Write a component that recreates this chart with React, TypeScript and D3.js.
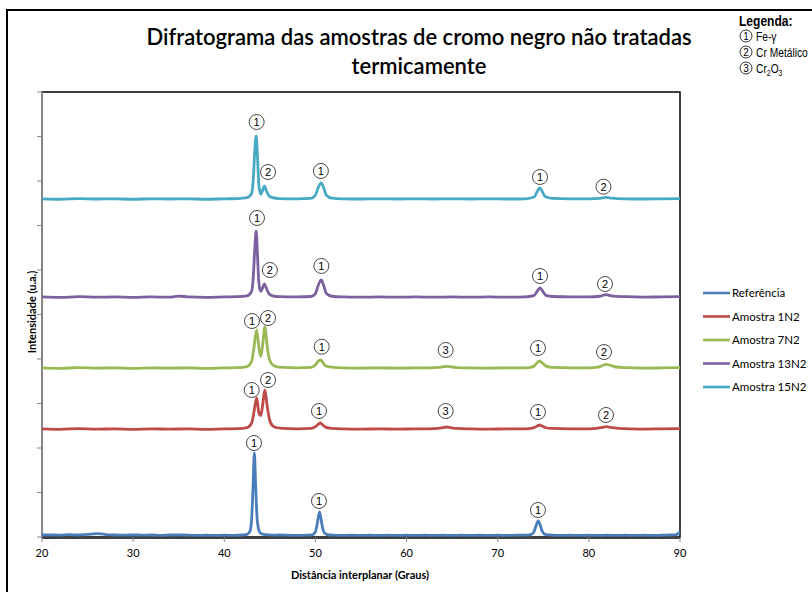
import React from "react";
import * as d3 from "d3";

type P = [number, number];

const seriesNames = ["Referência", "Amostra 1N2", "Amostra 7N2", "Amostra 13N2", "Amostra 15N2"];
const seriesColors = ["#4a7ebb", "#be4b48", "#98b954", "#7d60a0", "#46aac5"];

const referencia: P[] = [
  [20, 45], [21, 50], [22, 40], [23, 55], [24, 45], [25, 60], [26, 75], [26.5, 70], [27, 55], [28, 45], [29, 40], [30, 50],
  [31, 40], [32, 45], [33, 35], [34, 45], [35, 50], [36, 40], [37, 35], [38, 40], [39, 35], [40, 40], [41, 35], [42, 45],
  [42.5, 60], [42.8, 120], [43.0, 400], [43.15, 1100], [43.3, 1888], [43.45, 1100], [43.6, 420], [43.8, 150], [44.0, 80],
  [44.3, 60], [44.8, 50], [45.5, 40], [46, 45], [47, 40], [48, 35], [49, 40], [49.7, 55], [50.0, 120], [50.2, 300],
  [50.45, 562], [50.7, 300], [50.9, 120], [51.2, 60], [51.6, 45], [52, 40], [53, 35], [54, 40], [55, 35], [56, 40],
  [57, 35], [58, 40], [59, 35], [60, 40], [61, 35], [62, 40], [63, 35], [64, 40], [65, 35], [66, 40], [67, 35], [68, 40],
  [69, 35], [70, 40], [71, 35], [72, 40], [73, 40], [73.7, 60], [74.0, 130], [74.2, 250], [74.45, 360], [74.7, 240],
  [74.9, 120], [75.2, 60], [75.8, 45], [76, 40], [77, 35], [78, 40], [79, 35], [80, 40], [81, 35], [82, 40], [83, 35],
  [84, 40], [85, 35], [86, 40], [87, 35], [88, 40], [89, 45], [89.6, 55], [90, 110],
];

const amostra1N2: P[] = [
  [20, 2430], [22, 2420], [24, 2435], [26, 2425], [28, 2430], [30, 2420], [32, 2430], [34, 2425], [36, 2430], [38, 2420],
  [40, 2430], [41.5, 2435], [42.5, 2460], [43.0, 2560], [43.25, 2800], [43.55, 3124], [43.8, 2780], [44.0, 2730],
  [44.2, 2950], [44.45, 3303], [44.7, 2950], [44.95, 2650], [45.3, 2500], [45.8, 2455], [46.5, 2440], [48, 2430],
  [49.5, 2440], [50.0, 2480], [50.3, 2530], [50.55, 2562], [50.8, 2520], [51.1, 2470], [51.8, 2440], [53, 2430],
  [55, 2425], [57, 2430], [59, 2425], [61, 2430], [62.5, 2430], [63.5, 2440], [64.0, 2460], [64.4, 2472], [64.9, 2455],
  [65.5, 2440], [67, 2430], [69, 2425], [71, 2430], [73, 2430], [73.9, 2450], [74.3, 2490], [74.6, 2517], [74.9, 2490],
  [75.3, 2455], [76, 2440], [78, 2430], [80, 2430], [81.0, 2445], [81.5, 2465], [81.9, 2479], [82.4, 2465], [83, 2445],
  [84, 2435], [86, 2425], [88, 2430], [90, 2435],
];

const amostra7N2: P[] = [
  [20, 3800], [22, 3790], [24, 3805], [26, 3795], [28, 3800], [30, 3790], [32, 3800], [34, 3795], [36, 3800], [38, 3790],
  [40, 3800], [41.5, 3805], [42.5, 3830], [43.0, 3950], [43.25, 4250], [43.55, 4652], [43.8, 4250], [44.0, 4060],
  [44.2, 4300], [44.45, 4719], [44.7, 4300], [44.95, 3990], [45.3, 3870], [45.8, 3825], [46.5, 3810], [48, 3800],
  [49.5, 3810], [50.0, 3870], [50.3, 3950], [50.55, 3978], [50.8, 3930], [51.1, 3850], [51.8, 3815], [53, 3800],
  [55, 3795], [57, 3800], [59, 3795], [61, 3800], [62.5, 3800], [63.5, 3810], [64.0, 3825], [64.4, 3835], [64.9, 3820],
  [65.5, 3808], [67, 3800], [69, 3795], [71, 3800], [73, 3800], [73.9, 3830], [74.3, 3910], [74.6, 3955], [74.9, 3910],
  [75.3, 3840], [76, 3810], [78, 3800], [80, 3800], [81.0, 3815], [81.5, 3855], [81.9, 3880], [82.4, 3855], [83, 3820],
  [84, 3805], [86, 3795], [88, 3800], [90, 3805],
];

const amostra13N2: P[] = [
  [20, 5395], [22, 5385], [24, 5400], [26, 5390], [28, 5395], [30, 5385], [32, 5395], [34, 5390], [35, 5415], [36, 5395],
  [38, 5385], [40, 5395], [41.5, 5400], [42.5, 5420], [43.0, 5520], [43.2, 5900], [43.35, 6500], [43.5, 6876],
  [43.65, 6300], [43.8, 5700], [44.0, 5520], [44.2, 5600], [44.4, 5685], [44.6, 5600], [44.9, 5470], [45.3, 5420],
  [46, 5400], [48, 5395], [49.5, 5405], [50.0, 5470], [50.3, 5650], [50.65, 5775], [50.95, 5620], [51.2, 5470],
  [51.8, 5410], [53, 5395], [55, 5390], [57, 5395], [59, 5390], [61, 5395], [63, 5390], [65, 5395], [67, 5390],
  [69, 5395], [71, 5390], [73, 5395], [74.0, 5430], [74.35, 5530], [74.65, 5595], [74.95, 5520], [75.3, 5430],
  [76, 5405], [78, 5395], [80, 5395], [81.2, 5410], [81.9, 5445], [82.5, 5420], [84, 5400], [86, 5390], [88, 5395],
  [90, 5400],
];

const amostra15N2: P[] = [
  [20, 7600], [22, 7590], [24, 7605], [26, 7595], [28, 7600], [30, 7590], [32, 7600], [34, 7595], [36, 7600], [38, 7590],
  [40, 7600], [41.5, 7605], [42.5, 7625], [43.0, 7720], [43.2, 8100], [43.35, 8700], [43.5, 9011], [43.65, 8500],
  [43.8, 7900], [44.0, 7700], [44.2, 7790], [44.4, 7888], [44.6, 7790], [44.9, 7670], [45.3, 7625], [46, 7605],
  [48, 7600], [49.5, 7610], [50.0, 7680], [50.3, 7850], [50.65, 7955], [50.95, 7820], [51.2, 7680], [51.8, 7615],
  [53, 7600], [55, 7595], [57, 7600], [59, 7595], [61, 7600], [63, 7595], [65, 7600], [67, 7595], [69, 7600],
  [71, 7595], [73, 7600], [74.0, 7640], [74.35, 7770], [74.6, 7843], [74.9, 7760], [75.2, 7650], [76, 7610],
  [78, 7600], [80, 7600], [81.2, 7610], [81.9, 7630], [82.5, 7615], [84, 7600], [86, 7595], [88, 7600], [90, 7605],
];

const seriesData: P[][] = [referencia, amostra1N2, amostra7N2, amostra13N2, amostra15N2];

// peak annotations: [2θ, intensity, phase number]
const peakLabels: [number, number, number][] = [
  [43.55, 9326, 1], [44.8, 8202, 2], [50.6, 8225, 1], [74.64, 8090, 1], [81.6, 7872, 2],
  [43.59, 7169, 1], [45.0, 6000, 2], [50.65, 6090, 1], [74.64, 5865, 1], [81.77, 5685, 2],
  [43.04, 4854, 1], [44.8, 4921, 2], [50.69, 4276, 1], [64.29, 4202, 3], [74.42, 4247, 1], [81.66, 4157, 2],
  [43.01, 3303, 1], [44.8, 3528, 2], [50.39, 2831, 1], [64.29, 2831, 3], [74.42, 2809, 1], [81.88, 2742, 2],
  [43.26, 2112, 1], [50.39, 809, 1], [74.42, 607, 1],
];

const xTicks = [20, 30, 40, 50, 60, 70, 80, 90];
const yTicks = [0, 1000, 2000, 3000, 4000, 5000, 6000, 7000, 8000, 9000, 10000];

const legendPhases = ["Fe-γ", "Cr Metálico", "Cr2O3"];

const calibri = "Lato, 'Open Sans', sans-serif";
const narrow = "'Liberation Sans', Arial, sans-serif";

export default function App() {
  const left = 42, right = 680, top = 92, bottom = 537;
  const x = d3.scaleLinear().domain([20, 90]).range([left, right]);
  const y = d3.scaleLinear().domain([0, 10000]).range([bottom, top]);
  const line = d3.line<P>().x((d) => x(d[0])).y((d) => y(d[1])).curve(d3.curveMonotoneX);

  return (
    <div style={{ position: "fixed", left: 0, top: 0 }}>
      <svg width={812} height={592} style={{ display: "block", background: "#fff" }}>
        <rect x={0} y={0} width={812} height={592} fill="#fff" />
        {/* outer chart frame */}
        <rect x={7} y={10} width={830} height={620} fill="none" stroke="#000" strokeWidth={2} />

        {/* title */}
        <text x={419} y={45} textAnchor="middle" fontFamily={calibri} fontSize={22} fontWeight={600} fill="#000">
          Difratograma das amostras de cromo negro não tratadas
        </text>
        <text x={419} y={74} textAnchor="middle" fontFamily={calibri} fontSize={22} fontWeight={600} fill="#000">
          termicamente
        </text>

        {/* phase legend */}
        <g transform="translate(739, 26) scale(0.86, 1)">
          <text x={0} y={0} fontFamily={narrow} fontSize={14} fontWeight={700} fill="#000">
            Legenda:
          </text>
        </g>
        {legendPhases.map((p, i) => {
          const cy = 36 + i * 16;
          return (
            <g key={p}>
              <circle cx={746} cy={cy} r={6} fill="#fff" stroke="#000" strokeWidth={0.8} />
              <text x={746} y={cy + 3.5} textAnchor="middle" fontFamily={narrow} fontSize={10} fill="#000">
                {i + 1}
              </text>
              <g transform={`translate(756, ${cy + 5}) scale(0.76, 1)`}>
                {p === "Cr2O3" ? (
                  <text x={0} y={0} fontFamily={narrow} fontSize={13.5} fill="#000">
                    Cr<tspan fontSize={9} dy={3}>2</tspan>
                    <tspan dy={-3}>O</tspan>
                    <tspan fontSize={9} dy={3}>3</tspan>
                  </text>
                ) : (
                  <text x={0} y={0} fontFamily={narrow} fontSize={13.5} fill="#000">
                    {p}
                  </text>
                )}
              </g>
            </g>
          );
        })}

        {/* plot area border */}
        <rect x={left} y={top} width={right - left} height={bottom - top} fill="#fff" stroke="#000" strokeWidth={1.5} />

        {/* y axis */}
        <line x1={left} x2={left} y1={top} y2={bottom} stroke="#868686" strokeWidth={2} />
        {yTicks.map((t) => (
          <line key={t} x1={left - 5} x2={left} y1={y(t)} y2={y(t)} stroke="#868686" strokeWidth={1} />
        ))}

        {/* series */}
        {seriesData.map((s, i) => (
          <path key={i} d={line(s) || ""} fill="none" stroke={seriesColors[i]} strokeWidth={2.8} strokeLinejoin="round" />
        ))}

        {/* x axis */}
        <line x1={left} x2={right} y1={bottom + 1} y2={bottom + 1} stroke="#404040" strokeWidth={2} />
        {xTicks.map((t) => (
          <g key={t}>
            <line x1={x(t)} x2={x(t)} y1={bottom} y2={bottom + 5} stroke="#868686" strokeWidth={1} />
            <text x={x(t)} y={557} textAnchor="middle" fontFamily={calibri} fontSize={11} fill="#000">
              {t}
            </text>
          </g>
        ))}

        {/* peak labels */}
        {peakLabels.map(([px, py, n], i) => (
          <g key={i}>
            <circle cx={x(px)} cy={y(py)} r={7.5} fill="#fff" stroke="#333" strokeWidth={0.9} />
            <text x={x(px)} y={y(py) + 4} textAnchor="middle" fontFamily={narrow} fontSize={11} fill="#000">
              {n}
            </text>
          </g>
        ))}

        {/* axis titles */}
        <text x={360} y={579} textAnchor="middle" fontFamily={calibri} fontSize={11} fontWeight={700} fill="#000">
          Distância interplanar (Graus)
        </text>
        <text
          transform={`translate(36, 312) rotate(-90)`}
          textAnchor="middle"
          fontFamily={calibri}
          fontSize={11}
          fontWeight={700}
          fill="#000"
        >
          Intensidade (u.a.)
        </text>

        {/* series legend */}
        {seriesNames.map((n, i) => {
          const ly = 293 + i * 23.5;
          return (
            <g key={n}>
              <line x1={703} x2={730} y1={ly} y2={ly} stroke={seriesColors[i]} strokeWidth={2.6} />
              <text x={732} y={ly + 4} fontFamily={calibri} fontSize={11.5} fill="#000">
                {n}
              </text>
            </g>
          );
        })}
      </svg>
    </div>
  );
}
